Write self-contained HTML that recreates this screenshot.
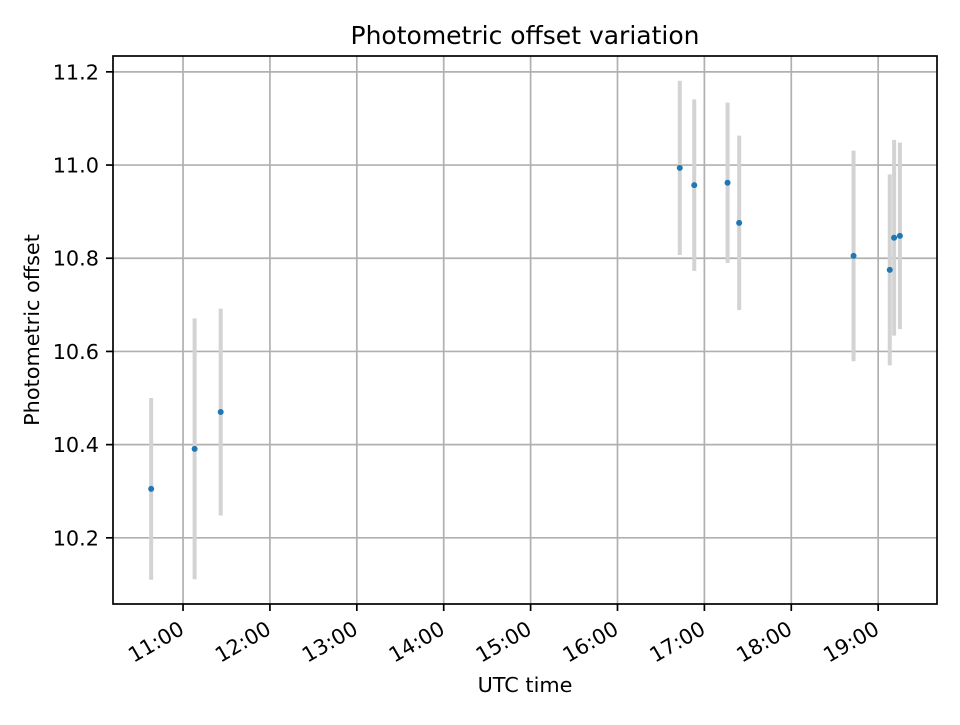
<!DOCTYPE html>
<html><head><meta charset="utf-8"><style>
body{margin:0;background:#fff;}
svg text{font-family:"DejaVu Sans","Liberation Sans",sans-serif;fill:#000;}
</style></head><body>
<svg id="chart" width="960" height="720" xmlns="http://www.w3.org/2000/svg">
<rect width="960" height="720" fill="#fff"/>
<g id="grid"></g>
<g id="errs"></g>
<g id="pts"></g>
<rect x="113" y="56" width="824" height="548" fill="none" stroke="#000" stroke-width="1.7"/>
<g id="ticks"></g>
<text x="525" y="44" font-size="25" text-anchor="middle">Photometric offset variation</text>
<text x="525" y="692" font-size="20.8" text-anchor="middle">UTC time</text>
<text transform="translate(39,330) rotate(-90)" font-size="20.8" text-anchor="middle">Photometric offset</text>
</svg>
<script>
const times = ["10:38","11:08","11:26","16:43","16:53","17:16","17:24","18:43","19:08","19:11","19:15"];
const offsets = [10.305,10.391,10.470,10.994,10.957,10.962,10.876,10.805,10.775,10.844,10.848];
const errors = [0.195,0.28,0.222,0.187,0.184,0.172,0.187,0.226,0.205,0.21,0.2];
const xTickLabels = ["11:00","12:00","13:00","14:00","15:00","16:00","17:00","18:00","19:00"];
const yTickLabels = ["10.2","10.4","10.6","10.8","11.0","11.2"];
const NS="http://www.w3.org/2000/svg";
const L=113,R=937,T=56,B=604;
const xMin=10.194,xMax=19.677,yMin=10.058,yMax=11.234;
function hrs(s){const p=s.split(":");return +p[0]+ +p[1]/60;}
function X(h){return L+(h-xMin)/(xMax-xMin)*(R-L);}
function Y(v){return B-(v-yMin)/(yMax-yMin)*(B-T);}
function mk(tag,attrs,parent){const e=document.createElementNS(NS,tag);for(const k in attrs)e.setAttribute(k,attrs[k]);document.getElementById(parent).appendChild(e);return e;}
xTickLabels.forEach(t=>{
  const x=X(hrs(t));
  const g=mk("line",{x1:x,x2:x,y1:T,y2:B,stroke:"#b0b0b0","stroke-width":1.7},"grid");
  
  
  const tk=mk("line",{x1:x,x2:x,y1:B,y2:B+7,stroke:"#000","stroke-width":1.7},"ticks");
  
  
  const tx=mk("text",{transform:`translate(${x-5},${B+16}) rotate(-30)`,"font-size":20.8,"text-anchor":"end",dy:"0.72em"},"ticks");
  tx.textContent=t;
  
  
});
yTickLabels.forEach(t=>{
  const y=Y(+t);
  const g=mk("line",{x1:L,x2:R,y1:y,y2:y,stroke:"#b0b0b0","stroke-width":1.7},"grid");
  
  
  const tk=mk("line",{x1:L-7,x2:L,y1:y,y2:y,stroke:"#000","stroke-width":1.7},"ticks");
  
  
  const tx=mk("text",{x:L-14,y:y+7.5,"font-size":20.8,"text-anchor":"end"},"ticks");
  tx.textContent=t;
  
  
});
times.forEach((t,i)=>{
  const x=X(hrs(t));
  const e=mk("line",{x1:x,x2:x,y1:Y(offsets[i]+errors[i]),y2:Y(offsets[i]-errors[i]),stroke:"#d3d3d3","stroke-width":4},"errs");
  
  
  const c=mk("circle",{cx:x,cy:Y(offsets[i]),r:3,fill:"#1f77b4"},"pts");
  
  
});
</script>
</body></html>
